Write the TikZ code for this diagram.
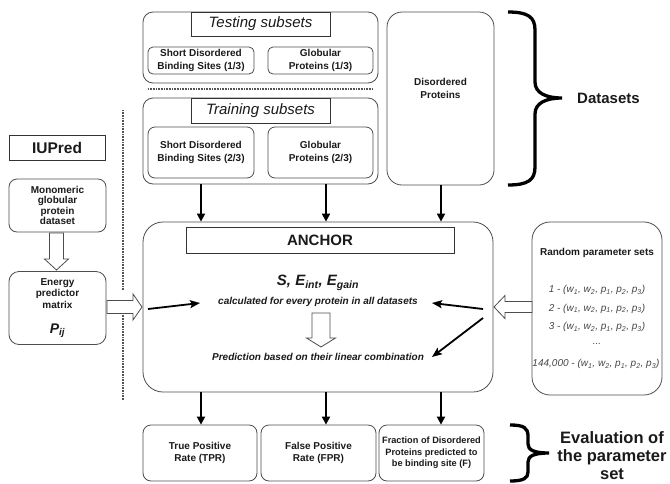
\documentclass[tikz,border=0pt]{standalone}
\usepackage{fontspec}
\setmainfont{Liberation Sans}
\usetikzlibrary{arrows.meta,calc}
\definecolor{bordergray}{HTML}{4D4D4D}
\definecolor{titlegray}{HTML}{333333}
\definecolor{dotgray}{HTML}{555555}
\definecolor{textblack}{HTML}{1A1A1A}
\definecolor{paramgray}{HTML}{474747}
\newcommand{\bxfont}{\fontsize{10}{12.5}\selectfont\bfseries}
\newcommand{\hollowarrow}[5]{% from #1 to #2, shaft half #3, head half #4, head length #5
  \coordinate (tmpH) at ($(#2)!#5!(#1)$);
  \draw[hollowst] ($(#1)!#3!90:(#2)$) -- ($(tmpH)!#3!-90:(#1)$) -- ($(tmpH)!#4!-90:(#1)$) -- (#2)
    -- ($(tmpH)!#4!90:(#1)$) -- ($(tmpH)!#3!90:(#1)$) -- ($(#1)!#3!-90:(#2)$) -- cycle;}
\begin{document}
\begin{tikzpicture}[x=1pt,y=-1pt,
  box/.style={draw=bordergray, line width=0.8pt, rounded corners=#1, inner sep=0pt, align=center, text=textblack, font=\bxfont},
  box/.default=6pt,
  titlebox/.style={draw=titlegray, line width=0.9pt, fill=white, inner sep=0pt, align=center, text=textblack},
  conn/.style={line width=1.8pt, draw=black, -{Triangle[length=8pt,width=8pt]}},
  thinarr/.style={line width=1.8pt, draw=black, -{Stealth[length=10pt,width=8pt,inset=2pt]}},
  hollowst/.style={draw=bordergray, line width=0.8pt, fill=white},
  dotline/.style={draw=dotgray, line width=1.6pt, dash pattern=on 0.8pt off 0.8pt},
  bracest/.style={draw=black, line width=3.3pt},
  plain/.style={inner sep=0pt, align=center, text=textblack},
  param/.style={inner sep=0pt, text=paramgray, font=\fontsize{10}{12}\selectfont\itshape},
]
\fill[white] (0,0) rectangle (670,483);
\useasboundingbox (0,0) rectangle (670,483);

% column coordinates for vertical connectors
\coordinate (cA) at (201,0);
\coordinate (cB) at (326,0);
\coordinate (cC) at (441,0);

% ---------- Testing subsets ----------
\node[box=10pt, minimum width=235, minimum height=71] (testOuter) at (260.5,47.5) {};
\node[titlebox, minimum width=139, minimum height=24, font=\fontsize{15}{18}\selectfont\itshape] (testTitle) at (260.5,24) {Testing subsets};
\node[box=5pt, minimum width=106, minimum height=27] (sdb1) at (201,60.5) {Short Disordered\\Binding Sites (1/3)};
\node[box=5pt, minimum width=105, minimum height=27] (glob1) at (320.5,60.5) {Globular\\Proteins (1/3)};

\draw[dotline] (148,89) -- (373,89);

% ---------- Training subsets ----------
\node[box=10pt, minimum width=235, minimum height=86] (trainOuter) at (260.5,141) {};
\node[titlebox, minimum width=139, minimum height=25, font=\fontsize{15}{18}\selectfont\itshape] (trainTitle) at (260.5,110.5) {Training subsets};
\node[box=7pt, minimum width=106, minimum height=51] (sdb2) at (201,152.5) {Short Disordered\\Binding Sites (2/3)};
\node[box=7pt, minimum width=105, minimum height=51] (glob2) at (320.5,152.5) {Globular\\Proteins (2/3)};

% ---------- Disordered proteins ----------
\node[box=15pt, minimum width=107, minimum height=173] (disProt) at (440.5,98.5) {Disordered\\Proteins\\[8pt]};

% Datasets brace
\draw[bracest] (508,12) .. controls (528,12) and (535,17) .. (535,30) -- (535,82)
  .. controls (535,93) and (546,98) .. (562,98)
  .. controls (546,98) and (535,103) .. (535,114) -- (535,167)
  .. controls (535,180) and (528,185) .. (508,185);
\node[plain, font=\fontsize{15}{18}\selectfont\bfseries] (datasets) at (608.5,98) {Datasets};

% ---------- IUPred column ----------
\draw[dotline] (123,110) -- (123,290);
\draw[dotline] (123,313) -- (123,400);
\node[titlebox, minimum width=96, minimum height=25, font=\fontsize{15.5}{18}\selectfont\bfseries] (iupred) at (57,147.5) {IUPred};
\node[box=8pt, minimum width=97, minimum height=53, font=\fontsize{10}{10.5}\selectfont\bfseries] (mono) at (57.5,205.5) {Monomeric\\globular\\protein\\dataset};
\node[box=10pt, minimum width=97, minimum height=73, font=\fontsize{10}{11.5}\selectfont\bfseries] (energy) at (57.5,308) {Energy\\predictor\\matrix\\[14pt]{\fontsize{14}{14}\selectfont\itshape P\textsubscript{ij}}};

% ---------- ANCHOR ----------
\node[box=20pt, minimum width=350, minimum height=170] (anchorBox) at (318,307) {};
\node[titlebox, minimum width=268, minimum height=26, font=\fontsize{15}{18}\selectfont\bfseries] (anchorTitle) at (320,240) {ANCHOR};
\node[plain, font=\fontsize{15}{18}\selectfont\bfseries\itshape] (sE) at (318,283) {S, E\textsubscript{int}, E\textsubscript{gain}};
\node[plain, font=\fontsize{10}{12}\selectfont\bfseries\itshape] (calcT) at (318,302) {calculated for every protein in all datasets};
\node[plain, font=\fontsize{10}{12}\selectfont\bfseries\itshape] (predT) at (318,357) {Prediction based on their linear combination};

\coordinate (hd1) at (321,313);
\coordinate (hd2) at (321,347);
\hollowarrow{hd1}{hd2}{9pt}{14.5pt}{9pt}

% ---------- Random parameter sets ----------
\node[box=18pt, minimum width=130, minimum height=173] (random) at (597,308.5) {};
\node[plain, font=\bxfont] (rpTitle) at (597,253) {Random parameter sets};
\node[param] (rp1) at (597,290) {1 - (w\textsubscript{1}, w\textsubscript{2}, p\textsubscript{1}, p\textsubscript{2}, p\textsubscript{3})};
\node[param] (rp2) at (597,308.5) {2 - (w\textsubscript{1}, w\textsubscript{2}, p\textsubscript{1}, p\textsubscript{2}, p\textsubscript{3})};
\node[param] (rp3) at (597,327) {3 - (w\textsubscript{1}, w\textsubscript{2}, p\textsubscript{1}, p\textsubscript{2}, p\textsubscript{3})};
\node[param] (rp4) at (597,344) {...};
\node[param] (rp5) at (596,364) {144,000 - (w\textsubscript{1}, w\textsubscript{2}, p\textsubscript{1}, p\textsubscript{2}, p\textsubscript{3})};

% ---------- hollow arrows ----------
\coordinate (mo1) at (56.5,233);
\coordinate (mo2) at (56.5,270);
\hollowarrow{mo1}{mo2}{7pt}{12pt}{11pt}
\coordinate (ea1) at (107,307);
\coordinate (ea2) at (142,307);
\hollowarrow{ea1}{ea2}{6.5pt}{13pt}{9pt}
\coordinate (ra0) at (532,307);
\coordinate (ra00) at (494,307);
\hollowarrow{ra0}{ra00}{5.5pt}{11.5pt}{11pt}

% ---------- black arrows inside ANCHOR ----------
\coordinate (la1) at (148,309);
\coordinate (la2) at (200,303);
\coordinate (ra1) at (483,309);
\coordinate (ra2) at (432,303);
\coordinate (rb1) at (483,318);
\coordinate (rb2) at (432,357);
\draw[thinarr] (la1) -- (la2);
\draw[thinarr] (ra1) -- (ra2);
\draw[thinarr] (rb1) -- (rb2);

% ---------- bottom evaluation boxes ----------
\node[box=8pt, minimum width=114, minimum height=56] (tpr) at (200,453) {True Positive\\Rate (TPR)};
\node[box=8pt, minimum width=115, minimum height=56] (fpr) at (318.5,453) {False Positive\\Rate (FPR)};
\node[box=8pt, minimum width=105, minimum height=56, font=\fontsize{9.2}{11.5}\selectfont\bfseries] (frac) at (431.5,453) {Fraction of Disordered\\Proteins predicted to\\be binding site (F)};

% ---------- vertical connectors ----------
\draw[conn] (trainOuter.south -| cA) -- (anchorBox.north -| cA);
\draw[conn] (trainOuter.south -| cB) -- (anchorBox.north -| cB);
\draw[conn] (disProt.south -| cC) -- (anchorBox.north -| cC);
\draw[conn] (anchorBox.south -| cA) -- (tpr.north -| cA);
\draw[conn] (anchorBox.south -| cB) -- (fpr.north -| cB);
\draw[conn] (anchorBox.south -| cC) -- (frac.north -| cC);

% Evaluation brace
\draw[bracest] (510,425) .. controls (524,425) and (528,428) .. (528,436) -- (528,444)
  .. controls (528,450) and (534,453) .. (549,453)
  .. controls (534,453) and (528,456) .. (528,462) -- (528,472)
  .. controls (528,478) and (524,481) .. (510,481);
\node[plain, font=\fontsize{16.5}{18}\selectfont\bfseries] (evalT) at (612,456) {Evaluation of\\the parameter\\set};
\end{tikzpicture}
\end{document}
